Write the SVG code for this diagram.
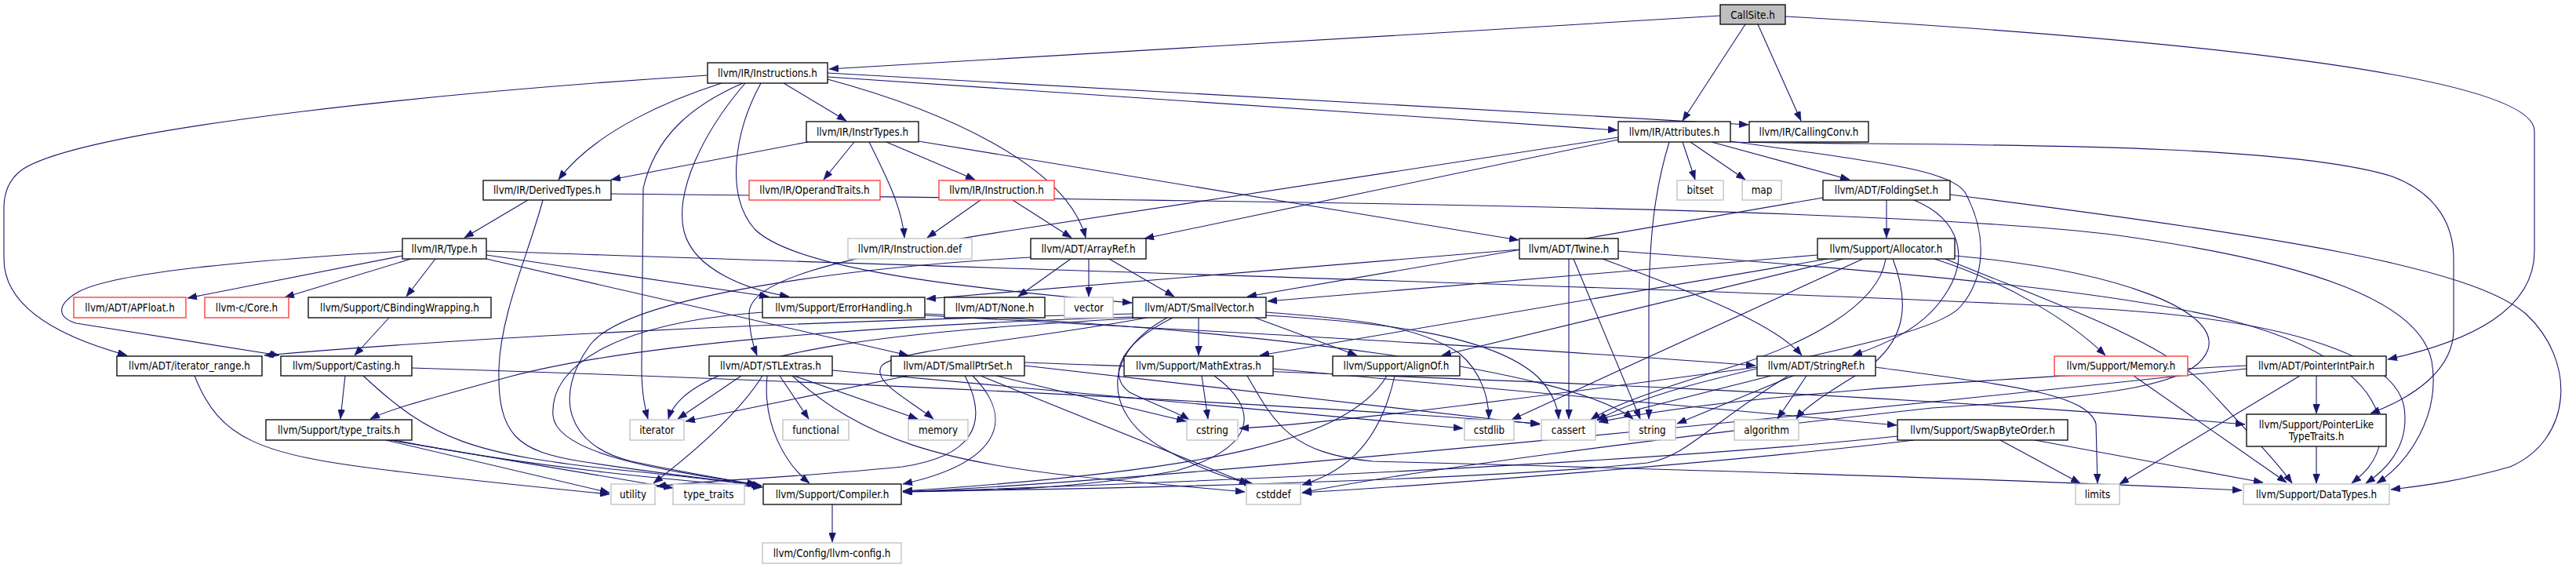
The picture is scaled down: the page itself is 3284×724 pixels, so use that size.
<svg xmlns="http://www.w3.org/2000/svg" width="3284" height="724" viewBox="0 0 3284 724">
<style>
text{font-family:'DejaVu Sans Condensed','DejaVu Sans',sans-serif;font-stretch:condensed;font-size:13.3px;fill:#000;text-anchor:middle}
.n rect{fill:#fff;stroke:#000;stroke-width:1.3}
.r rect{fill:#fff;stroke:#ff3030;stroke-width:1.3}
.g rect{fill:#fff;stroke:#bfbfbf;stroke-width:1.3}
.root rect{fill:#bfbfbf;stroke:#000;stroke-width:1.3}
#edges path{fill:none;stroke:#191970;stroke-width:1.1;marker-end:url(#arr)}
</style>
<defs>
<marker id="arr" markerUnits="userSpaceOnUse" markerWidth="12" markerHeight="9" viewBox="0 0 12 9" refX="12" refY="4.5" orient="auto">
<path d="M0,0 L12,4.5 L0,9 z" fill="#191970" stroke="#191970" stroke-width="0.5"/>
</marker>
</defs>
<rect x="0" y="0" width="3284" height="724" fill="#fff"/>
<g id="edges">
<path d="M2193,20 C1800,45 1300,72 1057,88"/>
<path d="M2225,31 L2145,154"/>
<path d="M2241,31 L2296,154"/>
<path d="M2276,21 C2700,45 3231,90 3231,167 L3231,320 C3231,395 3150,435 3044,458"/>
<path d="M1055,98 L2062,166"/>
<path d="M1055,93 L2229,159"/>
<path d="M999,106 L1079,154"/>
<path d="M920,106 C860,125 760,165 712,229"/>
<path d="M947,106 C880,135 835,175 820,240 L818,470 C818,500 822,520 826,534"/>
<path d="M950,106 C895,170 860,245 872,295 C885,345 955,370 1006,378"/>
<path d="M970,106 C935,170 925,250 962,292 C1010,340 1200,365 1443,386"/>
<path d="M1055,101 C1200,140 1360,210 1384,303"/>
<path d="M902,96 C600,115 120,160 30,215 C8,230 5,250 5,265 L5,330 C5,385 60,425 162,453"/>
<path d="M1030,181 L779,229"/>
<path d="M1089,181 L1050,229"/>
<path d="M1108,181 C1130,225 1150,265 1153,303"/>
<path d="M1130,181 L1243,229"/>
<path d="M1171,180 L1936,306"/>
<path d="M1250,255 L1182,303"/>
<path d="M1291,255 L1366,303"/>
<path d="M673,255 L592,303"/>
<path d="M692,255 C675,320 638,400 636,470 C634,555 660,575 740,588 C850,605 920,612 971,619"/>
<path d="M779,247 C1500,255 2400,262 2700,300 C2950,335 3085,385 3100,460 C3112,530 3070,590 3030,616"/>
<path d="M513,320 C350,330 150,345 100,372 C72,388 72,404 97,412 L356,453"/>
<path d="M513,326 L239,380"/>
<path d="M524,330 L363,379"/>
<path d="M555,330 L518,378"/>
<path d="M620,325 L980,378"/>
<path d="M620,330 L1158,453"/>
<path d="M620,320 C1500,350 2400,375 2700,395 C2920,410 3055,455 3065,520 C3072,570 3040,600 3016,616"/>
<path d="M1365,330 L1298,378"/>
<path d="M1388,330 L1388,378"/>
<path d="M1414,330 L1497,378"/>
<path d="M1314,328 C1100,340 800,375 752,440 C705,505 722,568 805,588 C885,605 935,612 964,618"/>
<path d="M2063,178 L1459,304"/>
<path d="M2063,175 L1300,292 C1050,330 955,360 955,400 C955,422 960,440 965,453"/>
<path d="M2145,181 L2161,229"/>
<path d="M2155,181 L2225,229"/>
<path d="M2182,181 L2358,229"/>
<path d="M2128,181 C2110,240 2102,300 2102,400 L2102,534"/>
<path d="M2206,181 C2450,186 2900,178 3050,225 C3110,248 3128,290 3128,330 L3128,420 C3128,470 3080,505 3022,527"/>
<path d="M2206,180 C2380,205 2485,215 2505,245 C2535,300 2530,355 2500,390 C2460,440 2150,470 2036,536"/>
<path d="M2324,252 L1590,378"/>
<path d="M2405,255 L2405,303"/>
<path d="M2440,255 C2500,280 2512,330 2478,378 C2450,420 2400,440 2362,453"/>
<path d="M2486,248 C2900,300 3150,340 3220,400 C3285,460 3280,560 3200,595 C3130,615 3080,620 3048,624"/>
<path d="M2000,330 L2000,534"/>
<path d="M2006,330 L2091,534"/>
<path d="M2043,330 C2150,370 2260,410 2297,453"/>
<path d="M2063,320 C2400,345 2700,370 2850,410 C2980,445 3040,500 3035,560 C3030,590 3012,605 2998,616"/>
<path d="M1937,318 L1181,381"/>
<path d="M2317,325 L1616,384"/>
<path d="M2330,330 L1606,453"/>
<path d="M2350,330 L1838,453"/>
<path d="M2375,330 L1927,535"/>
<path d="M2404,330 C2395,390 2300,440 2200,470 C2100,500 2050,520 2028,535"/>
<path d="M2413,330 C2440,400 2420,440 2380,470 C2330,500 2300,520 2290,534"/>
<path d="M2466,330 C2560,360 2640,410 2684,453"/>
<path d="M2480,330 C2600,380 2750,430 2810,490 C2860,545 2900,585 2922,616"/>
<path d="M2492,326 C2700,345 2830,395 2815,445 C2800,490 2700,505 2463,520 C2100,560 1800,600 1660,628"/>
<path d="M1444,404 C1100,415 800,440 650,480 C560,505 500,520 472,534"/>
<path d="M1444,400 C1000,410 600,430 337,453"/>
<path d="M1455,405 C1200,420 880,440 852,534"/>
<path d="M1462,405 C1300,435 1150,445 1125,465 C1108,485 1160,510 1190,534"/>
<path d="M1528,405 L1528,453"/>
<path d="M1495,405 C1425,440 1412,480 1440,500 C1470,515 1500,525 1516,535"/>
<path d="M1488,405 C1405,450 1405,525 1480,570 C1530,598 1570,612 1598,617"/>
<path d="M1600,405 L1730,453"/>
<path d="M1614,398 C1700,405 1800,410 1860,450 C1890,475 1898,510 1898,534"/>
<path d="M1614,402 C1750,410 1900,425 1960,480 C1980,500 1986,520 1987,534"/>
<path d="M945,479 L864,534"/>
<path d="M972,479 C940,530 880,580 833,616"/>
<path d="M978,479 C972,540 1000,590 1032,616"/>
<path d="M994,479 L1031,534"/>
<path d="M1012,479 L1170,534"/>
<path d="M1010,479 C1100,560 1200,590 1400,610 L1587,627"/>
<path d="M1061,472 L1865,546"/>
<path d="M1157,479 L874,537"/>
<path d="M1230,479 C1262,540 1240,582 1150,595 C1000,610 900,612 837,620"/>
<path d="M1240,479 C1300,540 1265,592 1151,617"/>
<path d="M1250,479 L1592,617"/>
<path d="M1270,479 L1512,537"/>
<path d="M1306,466 L1963,541"/>
<path d="M1306,462 C1800,480 2400,500 2862,541"/>
<path d="M1532,479 L1540,534"/>
<path d="M1548,479 C1605,520 1605,570 1500,600 C1350,628 1200,626 1151,627"/>
<path d="M1623,470 L2418,542"/>
<path d="M1590,479 C1625,540 1645,578 1750,588 C2200,600 2600,612 2858,625"/>
<path d="M1768,479 C1720,560 1550,600 1151,626"/>
<path d="M1778,479 C1760,560 1720,600 1660,618"/>
<path d="M2303,479 L2266,534"/>
<path d="M2286,479 L2138,540"/>
<path d="M2258,479 L2036,535"/>
<path d="M2280,479 C2180,540 2150,582 2100,590 C1900,612 1400,624 1151,626"/>
<path d="M2240,468 C2000,500 1700,540 1580,546"/>
<path d="M2391,468 C2550,490 2660,500 2672,540 L2674,616"/>
<path d="M2550,561 L2652,616"/>
<path d="M2594,561 L2885,615"/>
<path d="M2419,556 C2100,590 1500,616 1151,627"/>
<path d="M2440,561 C2200,590 1800,620 1660,628"/>
<path d="M2720,479 L2915,615"/>
<path d="M2953,479 L2953,527"/>
<path d="M2932,479 L2702,617"/>
<path d="M2864,466 C2500,485 2200,505 2038,538"/>
<path d="M2864,470 C2400,520 1500,612 1151,627"/>
<path d="M2953,569 L2953,616"/>
<path d="M973,398 C800,410 700,460 705,530 C710,580 850,600 966,618"/>
<path d="M1179,402 C1500,420 1900,440 2238,466"/>
<path d="M1179,400 C1600,420 2000,470 2082,534"/>
<path d="M440,479 L434,534"/>
<path d="M463,479 C550,560 600,580 800,600 C900,610 940,615 970,620"/>
<path d="M525,469 C1200,490 1700,520 1963,540"/>
<path d="M492,561 L777,628"/>
<path d="M497,561 L858,622"/>
<path d="M502,561 C700,600 900,615 972,621"/>
<path d="M248,479 C280,560 330,580 500,600 C620,615 700,622 777,630"/>
<path d="M496,405 L452,453"/>
<path d="M1061,643 L1061,691"/>
</g>
<g id="n_callsite" class="root"><rect x="2193" y="6" width="83" height="25"/><text x="2234.5" y="23.5">CallSite.h</text></g>
<g id="n_instructions" class="n"><rect x="902" y="80" width="153" height="26"/><text x="978.5" y="97.5">llvm/IR/Instructions.h</text></g>
<g id="n_attributes" class="n"><rect x="2063" y="155" width="143" height="26"/><text x="2134.5" y="172.5">llvm/IR/Attributes.h</text></g>
<g id="n_callingconv" class="n"><rect x="2230" y="155" width="152" height="26"/><text x="2306" y="172.5">llvm/IR/CallingConv.h</text></g>
<g id="n_instrtypes" class="n"><rect x="1028" y="155" width="143" height="26"/><text x="1099.5" y="172.5">llvm/IR/InstrTypes.h</text></g>
<g id="n_derivedtypes" class="n"><rect x="616" y="230" width="163" height="25"/><text x="697.5" y="247">llvm/IR/DerivedTypes.h</text></g>
<g id="n_operandtraits" class="r"><rect x="955" y="230" width="167" height="25"/><text x="1038.5" y="247">llvm/IR/OperandTraits.h</text></g>
<g id="n_instruction" class="r"><rect x="1197" y="230" width="147" height="25"/><text x="1270.5" y="247">llvm/IR/Instruction.h</text></g>
<g id="n_bitset" class="g"><rect x="2138" y="230" width="59" height="25"/><text x="2167.5" y="247">bitset</text></g>
<g id="n_map" class="g"><rect x="2221" y="230" width="50" height="25"/><text x="2246" y="247">map</text></g>
<g id="n_foldingset" class="n"><rect x="2324" y="230" width="162" height="25"/><text x="2405" y="247">llvm/ADT/FoldingSet.h</text></g>
<g id="n_type" class="n"><rect x="513" y="304" width="107" height="26"/><text x="566.5" y="321.5">llvm/IR/Type.h</text></g>
<g id="n_instructiondef" class="g"><rect x="1081" y="304" width="158" height="26"/><text x="1160" y="321.5">llvm/IR/Instruction.def</text></g>
<g id="n_arrayref" class="n"><rect x="1314" y="304" width="147" height="26"/><text x="1387.5" y="321.5">llvm/ADT/ArrayRef.h</text></g>
<g id="n_twine" class="n"><rect x="1937" y="304" width="126" height="26"/><text x="2000" y="321.5">llvm/ADT/Twine.h</text></g>
<g id="n_allocator" class="n"><rect x="2317" y="304" width="175" height="26"/><text x="2404.5" y="321.5">llvm/Support/Allocator.h</text></g>
<g id="n_apfloat" class="r"><rect x="94" y="379" width="143" height="26"/><text x="165.5" y="396.5">llvm/ADT/APFloat.h</text></g>
<g id="n_core" class="r"><rect x="261" y="379" width="107" height="26"/><text x="314.5" y="396.5">llvm-c/Core.h</text></g>
<g id="n_cbinding" class="n"><rect x="393" y="379" width="233" height="26"/><text x="509.5" y="396.5">llvm/Support/CBindingWrapping.h</text></g>
<g id="n_errorhandling" class="n"><rect x="972" y="379" width="207" height="26"/><text x="1075.5" y="396.5">llvm/Support/ErrorHandling.h</text></g>
<g id="n_none" class="n"><rect x="1204" y="379" width="128" height="26"/><text x="1268" y="396.5">llvm/ADT/None.h</text></g>
<g id="n_vector" class="g"><rect x="1357" y="379" width="62" height="26"/><text x="1388" y="396.5">vector</text></g>
<g id="n_smallvector" class="n"><rect x="1444" y="379" width="170" height="26"/><text x="1529" y="396.5">llvm/ADT/SmallVector.h</text></g>
<g id="n_iterator_range" class="n"><rect x="149" y="454" width="185" height="25"/><text x="241.5" y="471">llvm/ADT/iterator_range.h</text></g>
<g id="n_casting" class="n"><rect x="358" y="454" width="167" height="25"/><text x="441.5" y="471">llvm/Support/Casting.h</text></g>
<g id="n_stlextras" class="n"><rect x="904" y="454" width="157" height="25"/><text x="982.5" y="471">llvm/ADT/STLExtras.h</text></g>
<g id="n_smallptrset" class="n"><rect x="1136" y="454" width="170" height="25"/><text x="1221" y="471">llvm/ADT/SmallPtrSet.h</text></g>
<g id="n_mathextras" class="n"><rect x="1433" y="454" width="190" height="25"/><text x="1528" y="471">llvm/Support/MathExtras.h</text></g>
<g id="n_alignof" class="n"><rect x="1699" y="454" width="162" height="25"/><text x="1780" y="471">llvm/Support/AlignOf.h</text></g>
<g id="n_stringref" class="n"><rect x="2240" y="454" width="151" height="25"/><text x="2315.5" y="471">llvm/ADT/StringRef.h</text></g>
<g id="n_memory_h" class="r"><rect x="2619" y="454" width="170" height="25"/><text x="2704" y="471">llvm/Support/Memory.h</text></g>
<g id="n_pointerintpair" class="n"><rect x="2864" y="454" width="178" height="25"/><text x="2953" y="471">llvm/ADT/PointerIntPair.h</text></g>
<g id="n_type_traits_h" class="n"><rect x="339" y="535" width="186" height="26"/><text x="432" y="552.5">llvm/Support/type_traits.h</text></g>
<g id="n_iterator" class="g"><rect x="803" y="535" width="69" height="26"/><text x="837.5" y="552.5">iterator</text></g>
<g id="n_functional" class="g"><rect x="998" y="535" width="84" height="26"/><text x="1040" y="552.5">functional</text></g>
<g id="n_memory" class="g"><rect x="1158" y="535" width="76" height="26"/><text x="1196" y="552.5">memory</text></g>
<g id="n_cstring" class="g"><rect x="1513" y="535" width="65" height="26"/><text x="1545.5" y="552.5">cstring</text></g>
<g id="n_cstdlib" class="g"><rect x="1867" y="535" width="63" height="26"/><text x="1898.5" y="552.5">cstdlib</text></g>
<g id="n_cassert" class="g"><rect x="1965" y="535" width="69" height="26"/><text x="1999.5" y="552.5">cassert</text></g>
<g id="n_string" class="g"><rect x="2077" y="535" width="59" height="26"/><text x="2106.5" y="552.5">string</text></g>
<g id="n_algorithm" class="g"><rect x="2211" y="535" width="82" height="26"/><text x="2252" y="552.5">algorithm</text></g>
<g id="n_swapbyteorder" class="n"><rect x="2419" y="535" width="217" height="26"/><text x="2527.5" y="552.5">llvm/Support/SwapByteOrder.h</text></g>
<g id="n_pltt" class="n"><rect x="2864" y="528" width="178" height="41"/><text x="2953" y="546">llvm/Support/PointerLike</text><text x="2953" y="561">TypeTraits.h</text></g>
<g id="n_utility" class="g"><rect x="779" y="617" width="56" height="26"/><text x="807" y="634.5">utility</text></g>
<g id="n_type_traits" class="g"><rect x="858" y="617" width="91" height="26"/><text x="903.5" y="634.5">type_traits</text></g>
<g id="n_compiler" class="n"><rect x="973" y="617" width="176" height="26"/><text x="1061" y="634.5">llvm/Support/Compiler.h</text></g>
<g id="n_cstddef" class="g"><rect x="1589" y="617" width="69" height="26"/><text x="1623.5" y="634.5">cstddef</text></g>
<g id="n_limits" class="g"><rect x="2646" y="617" width="56" height="26"/><text x="2674" y="634.5">limits</text></g>
<g id="n_datatypes" class="g"><rect x="2860" y="617" width="186" height="26"/><text x="2953" y="634.5">llvm/Support/DataTypes.h</text></g>
<g id="n_llvmconfig" class="g"><rect x="972" y="692" width="177" height="26"/><text x="1060.5" y="709.5">llvm/Config/llvm-config.h</text></g>
</svg>
